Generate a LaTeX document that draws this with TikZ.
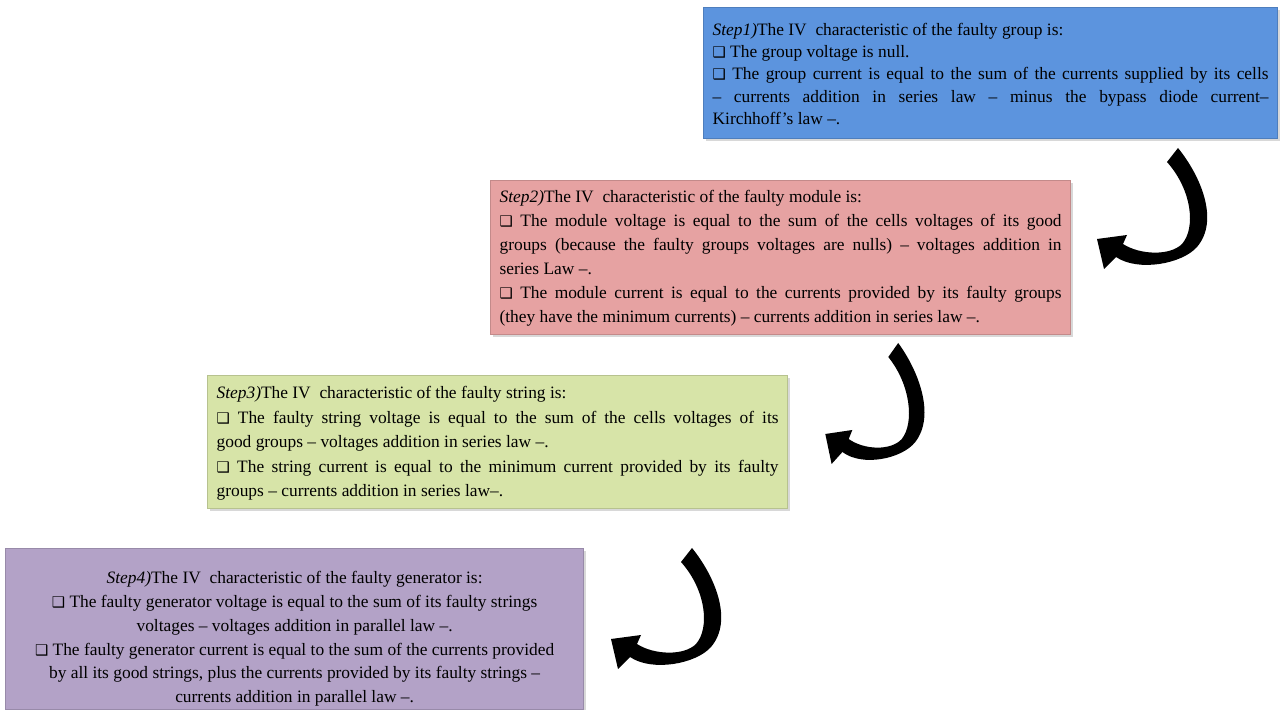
\documentclass[tikz,border=0pt]{standalone}
\usepackage{fontspec}
\setmainfont{Liberation Serif}
\newfontfamily\symf{DejaVu Sans}
\usetikzlibrary{shadows}
\definecolor{bxblue}{RGB}{92,148,222}
\definecolor{bxpink}{RGB}{230,162,162}
\definecolor{bxgreen}{RGB}{215,228,168}
\definecolor{bxpurple}{RGB}{179,162,199}
\newcommand{\bxsq}{{\symf\fontsize{7.4pt}{11pt}\selectfont ❑}\ }
\newcommand{\txtset}[1]{\fontsize{8.7pt}{#1}\selectfont\sloppy}
\tikzset{
  stepbox/.style={draw=#1!85!black, line width=0.6pt, fill=#1, inner xsep=4.5pt, inner ysep=0pt,
    anchor=north west, drop shadow={opacity=0.3, shadow xshift=1.2pt, shadow yshift=-1.2pt}},
  turnarrow/.pic={
    \fill[black] (77,22) -- (88,8)
      .. controls (110,35) and (130,80) .. (107,107)
      .. controls (92,124) and (48,132) .. (26,117)
      -- (14,129) -- (7,99) -- (37,95) -- (33,104)
      .. controls (50,115) and (80,116) .. (92,104)
      .. controls (106,88) and (102,50) .. (77,22) -- cycle;
  }
}
\begin{document}
\begin{tikzpicture}[x=0.5pt, y=-0.5pt]
\useasboundingbox (0,0) rectangle (1280,710);
\fill[white] (0,0) rectangle (1280,710);

\node[stepbox=bxblue] (s1) at (703,7) {\parbox[c][65.5pt][t]{278pt}{\txtset{11.1pt}\vspace*{6.2pt}%
\strut\textit{Step1)}The IV\ \ characteristic of the faulty group is:\par
\bxsq The group voltage is null.\par
\bxsq The group current is equal to the sum of the currents supplied by its cells\linebreak
– currents addition in series law – minus the bypass diode current–\linebreak
Kirchhoff's law –.}};

\node[stepbox=bxpink] (s2) at (490,180) {\parbox[c][77pt][t]{281pt}{\txtset{12pt}\vspace*{2.8pt}%
\strut\textit{Step2)}The IV\ \ characteristic of the faulty module is:\par
\bxsq The module voltage is equal to the sum of the cells voltages of its good\linebreak
groups (because the faulty groups voltages are nulls) – voltages addition in\linebreak
series Law –.\par
\bxsq The module current is equal to the currents provided by its faulty groups\linebreak
(they have the minimum currents) – currents addition in series law –.}};

\node[stepbox=bxgreen] (s3) at (207,375) {\parbox[c][66.5pt][t]{281pt}{\txtset{12.3pt}\vspace*{2.8pt}%
\strut\textit{Step3)}The IV\ \ characteristic of the faulty string is:\par
\bxsq The faulty string voltage is equal to the sum of the cells voltages of its\linebreak
good groups – voltages addition in series law –.\par
\bxsq The string current is equal to the minimum current provided by its faulty\linebreak
groups – currents addition in series law–.}};

\node[stepbox=bxpurple] (s4) at (5,548) {\parbox[c][80.5pt][t]{280pt}{\txtset{11.95pt}\centering\vspace*{9pt}%
\strut\textit{Step4)}The IV\ \ characteristic of the faulty generator is:\\
\bxsq The faulty generator voltage is equal to the sum of its faulty strings\\
voltages – voltages addition in parallel law –.\\
\bxsq The faulty generator current is equal to the sum of the currents provided\\
by all its good strings, plus the currents provided by its faulty strings –\\
currents addition in parallel law –.}};

\pic at (1090,140) {turnarrow};
\pic[xscale=0.9] at (819,335) {turnarrow};
\pic at (604,540) {turnarrow};
\end{tikzpicture}
\end{document}
